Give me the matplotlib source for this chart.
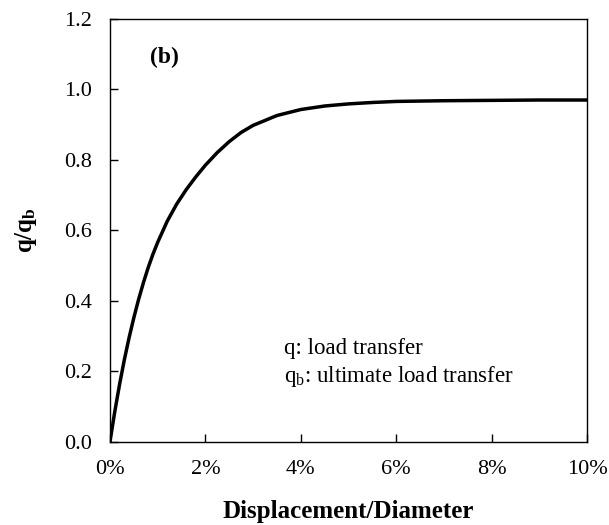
import matplotlib
matplotlib.use("Agg")
import matplotlib.pyplot as plt
from matplotlib.ticker import FuncFormatter

plt.rcParams['font.family'] = ['Liberation Serif', 'DejaVu Serif']
plt.rcParams['mathtext.fontset'] = 'custom'
plt.rcParams['mathtext.rm'] = 'Liberation Serif'
plt.rcParams['mathtext.bf'] = 'Liberation Serif:bold'

disp_pct = [0, 0.1, 0.2, 0.3, 0.4, 0.5, 0.6, 0.7, 0.8, 0.9, 1.0, 1.2, 1.4,
            1.6, 1.8, 2.0, 2.25, 2.5, 2.75, 3.0, 3.5, 4.0, 4.5, 5.0, 5.5,
            6.0, 7.0, 8.0, 9.0, 10.0]
q_ratio = [0, 0.085, 0.162, 0.232, 0.295, 0.352, 0.404, 0.451, 0.494, 0.532,
           0.566, 0.626, 0.675, 0.716, 0.752, 0.785, 0.821, 0.852, 0.878,
           0.898, 0.926, 0.943, 0.953, 0.959, 0.963, 0.966, 0.968, 0.969,
           0.97, 0.97]
x_ticks = [0, 2, 4, 6, 8, 10]
y_ticks = [0.0, 0.2, 0.4, 0.6, 0.8, 1.0, 1.2]

fig = plt.figure(figsize=(6.09, 5.25), dpi=100)
ax = fig.add_axes([0.1806, 0.1587, 0.7833, 0.8051])
ax.plot(disp_pct, q_ratio, color='black', lw=2.5, solid_joinstyle='round')
ax.set_xlim(0, 10)
ax.set_ylim(0, 1.2)
ax.set_xticks(x_ticks)
ax.set_yticks(y_ticks)
ax.xaxis.set_major_formatter(FuncFormatter(lambda v, p: f"{v:.0f}%"))
ax.yaxis.set_major_formatter(FuncFormatter(lambda v, p: f"{v:.1f}"))
ax.tick_params(direction='in', length=6, width=1, labelsize=16, pad=13,
               top=False, right=False)
for s in ax.spines.values():
    s.set_linewidth(1.0)

ax.set_xlabel('Displacement/Diameter', fontsize=18, fontweight='bold', labelpad=15)
ax.set_ylabel(r'$\mathbf{q/q_b}$', fontsize=18, labelpad=18)

ax.text(0.083, 0.908, '(b)', transform=ax.transAxes, fontsize=17,
        fontweight='bold', ha='left', va='center')
ax.text(0.365, 0.22, 'q: load transfer', transform=ax.transAxes,
        fontsize=16.5, ha='left', va='center')
ax.text(0.365, 0.155, r'q$_\mathrm{b}$: ultimate load transfer',
        transform=ax.transAxes, fontsize=16.5, ha='left', va='center')

fig.savefig('out.png', dpi=100)
